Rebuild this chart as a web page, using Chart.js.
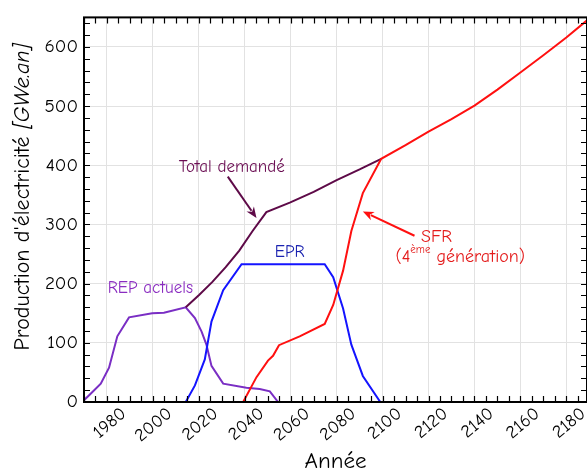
<!DOCTYPE html>
<html>
<head>
<meta charset="utf-8">
<script src="https://cdn.jsdelivr.net/npm/chart.js@4.4.1/dist/chart.umd.min.js"></script>
<style>
  html, body { margin: 0; padding: 0; background: #fff; }
  #wrap { width: 587px; height: 475px; position: relative; }
</style>
</head>
<body>
<div id="wrap"><canvas id="prodChart"></canvas></div>
<script>
(function() {
  'use strict';

  // REP actuels (current PWR fleet)
  const repYears  = [1970, 1972.9, 1977.3, 1980.9, 1984.5, 1989.6, 1999.7, 2004.8, 2014.3, 2018.3, 2021.2, 2023.3, 2025.5, 2030.6, 2040.7, 2046.5, 2050.9, 2054.5];
  const repValues = [3, 14, 31, 58, 111, 143, 150, 151, 160, 142, 119, 97, 61, 31, 24, 22, 18, 0];

  // EPR
  const eprYears  = [2014.3, 2018.3, 2022.6, 2025.5, 2030.6, 2038.6, 2074.8, 2078.5, 2082.8, 2086.4, 2091.4, 2099];
  const eprValues = [0, 28, 72, 136, 189, 233, 233, 211, 158, 97, 44, 0];

  // SFR (4th generation)
  const sfrYears  = [2039.3, 2045.1, 2050.1, 2052.3, 2054.9, 2063.9, 2074.8, 2078.5, 2082.8, 2086.4, 2091.4, 2099.4, 2110, 2120, 2130, 2140, 2150, 2160, 2170, 2180, 2189];
  const sfrValues = [0, 42, 70, 78, 96, 111, 132, 164, 222, 289, 353, 411, 434, 457, 478, 501, 528, 557, 586, 616, 645];

  // Total demandé
  const totalYears  = [2014.3, 2020.1, 2025.9, 2031.7, 2037.6, 2043.4, 2049.4, 2059.6, 2070, 2080, 2090, 2099.4];
  const totalValues = [160, 181, 203, 228, 256, 289, 321, 337, 355, 375, 393, 411];

  const xTickValues = [1980, 2000, 2020, 2040, 2060, 2080, 2100, 2120, 2140, 2160, 2180];
  const yTickValues = [0, 100, 200, 300, 400, 500, 600];

  const FONT = "'Comic Sans MS', 'Comic Neue', 'DejaVu Sans', sans-serif";

  const colors = {
    rep: '#7a2ec4',
    repText: '#8a2cc0',
    epr: '#1414ff',
    eprText: '#1a22b0',
    sfr: '#ff1010',
    sfrText: '#e41c1c',
    total: '#5e0a48',
    totalText: '#6a0c52'
  };

  function toPoints(xs, ys) {
    return xs.map((x, i) => ({ x: x, y: ys[i] }));
  }

  // annotations in data coordinates
  const labels = [
    { text: 'Total demandé', x: 2034.3, y: 396, color: colors.totalText, size: 17 },
    { text: 'EPR', x: 2059.6, y: 253, color: colors.eprText, size: 17 },
    { text: 'REP actuels', x: 1998.9, y: 192, color: colors.repText, size: 17 },
    { text: 'SFR', x: 2123.5, y: 279, color: colors.sfrText, size: 18 }
  ];
  const arrows = [
    { from: [2032.6, 381], to: [2045.1, 311], color: colors.total },
    { from: [2113.9, 281], to: [2091.4, 322], color: colors.sfr }
  ];

  function drawArrow(ctx, x1, y1, x2, y2, color) {
    const ang = Math.atan2(y2 - y1, x2 - x1);
    const len = 11, half = 4.5;
    ctx.save();
    ctx.strokeStyle = color;
    ctx.fillStyle = color;
    ctx.lineWidth = 2;
    ctx.beginPath();
    ctx.moveTo(x1, y1);
    ctx.lineTo(x2 - Math.cos(ang) * len * 0.8, y2 - Math.sin(ang) * len * 0.8);
    ctx.stroke();
    ctx.beginPath();
    ctx.moveTo(x2, y2);
    ctx.lineTo(x2 - Math.cos(ang) * len - Math.sin(ang) * half, y2 - Math.sin(ang) * len + Math.cos(ang) * half);
    ctx.lineTo(x2 - Math.cos(ang) * len * 0.7, y2 - Math.sin(ang) * len * 0.7);
    ctx.lineTo(x2 - Math.cos(ang) * len + Math.sin(ang) * half, y2 - Math.sin(ang) * len - Math.cos(ang) * half);
    ctx.closePath();
    ctx.fill();
    ctx.restore();
  }

  const decorations = {
    id: 'decorations',
    afterDraw(chart) {
      const ctx = chart.ctx;
      const area = chart.chartArea;
      const xs = chart.scales.x, ys = chart.scales.y;

      ctx.save();
      // frame
      ctx.strokeStyle = '#000';
      ctx.lineWidth = 2;
      ctx.strokeRect(area.left, area.top, area.right - area.left, area.bottom - area.top);

      // inward ticks
      ctx.lineWidth = 1.2;
      ctx.beginPath();
      for (let v = 1970; v <= xs.max; v += 5) {
        const px = Math.round(xs.getPixelForValue(v)) + 0.5;
        ctx.moveTo(px, area.bottom); ctx.lineTo(px, area.bottom - 6);
        ctx.moveTo(px, area.top); ctx.lineTo(px, area.top + 6);
      }
      for (let v = 0; v <= ys.max; v += 20) {
        const py = Math.round(ys.getPixelForValue(v)) + 0.5;
        ctx.moveTo(area.left, py); ctx.lineTo(area.left + 6, py);
        ctx.moveTo(area.right, py); ctx.lineTo(area.right - 6, py);
      }
      ctx.stroke();

      // text labels
      ctx.textAlign = 'center';
      ctx.textBaseline = 'middle';
      labels.forEach(l => {
        ctx.fillStyle = l.color;
        ctx.font = l.size + 'px ' + FONT;
        ctx.fillText(l.text, xs.getPixelForValue(l.x), ys.getPixelForValue(l.y));
      });

      // "(4ème génération)" with superscript
      {
        const cx = xs.getPixelForValue(2133.8), cy = ys.getPixelForValue(245);
        const big = '18px ' + FONT, small = '11px ' + FONT;
        ctx.font = big;
        const w1 = ctx.measureText('(4').width;
        const w3 = ctx.measureText(' génération)').width;
        ctx.font = small;
        const w2 = ctx.measureText('ème').width;
        let x = cx - (w1 + w2 + w3) / 2;
        ctx.textAlign = 'left';
        ctx.fillStyle = colors.sfrText;
        ctx.font = big;
        ctx.fillText('(4', x, cy);
        x += w1;
        ctx.font = small;
        ctx.fillText('ème', x, cy - 7);
        x += w2;
        ctx.font = big;
        ctx.fillText(' génération)', x, cy);
      }

      arrows.forEach(a => {
        drawArrow(ctx,
          xs.getPixelForValue(a.from[0]), ys.getPixelForValue(a.from[1]),
          xs.getPixelForValue(a.to[0]), ys.getPixelForValue(a.to[1]), a.color);
      });

      // y axis title with italic unit
      {
        const cy = 197;
        const part1 = "Production d'électricité ", part2 = '[GWe.an]';
        const f1 = '22px ' + FONT, f2 = 'italic 22px ' + FONT;
        ctx.font = f1;
        const w1 = ctx.measureText(part1).width;
        ctx.font = f2;
        const w2 = ctx.measureText(part2).width;
        ctx.translate(23, cy);
        ctx.rotate(-Math.PI / 2);
        ctx.textAlign = 'left';
        ctx.textBaseline = 'middle';
        ctx.fillStyle = '#000';
        ctx.font = f1;
        ctx.fillText(part1, -(w1 + w2) / 2, 0);
        ctx.font = f2;
        ctx.fillText(part2, -(w1 + w2) / 2 + w1, 0);
      }
      ctx.restore();
    }
  };

  function lineSet(label, xs, ys, color) {
    return {
      label: label,
      data: toPoints(xs, ys),
      borderColor: color,
      backgroundColor: color,
      borderWidth: 2,
      pointRadius: 0,
      tension: 0,
      fill: false
    };
  }

  const canvas = document.getElementById('prodChart');
  new Chart(canvas, {
    type: 'line',
    data: {
      datasets: [
        lineSet('SFR', sfrYears, sfrValues, colors.sfr),
        lineSet('Total demandé', totalYears, totalValues, colors.total),
        lineSet('EPR', eprYears, eprValues, colors.epr),
        lineSet('REP actuels', repYears, repValues, colors.rep)
      ]
    },
    options: {
      responsive: true,
      maintainAspectRatio: false,
      animation: false,
      layout: { padding: { top: 12, right: 0, left: 0, bottom: 0 } },
      plugins: {
        legend: { display: false },
        tooltip: { enabled: false }
      },
      scales: {
        x: {
          type: 'linear',
          min: 1970,
          max: 2189,
          afterBuildTicks: scale => { scale.ticks = xTickValues.map(v => ({ value: v })); },
          afterFit: scale => { scale.height = 73; },
          ticks: {
            color: '#000',
            font: { family: FONT, size: 18 },
            minRotation: 40,
            maxRotation: 40,
            padding: 1,
            labelOffset: 17,
            callback: v => String(v)
          },
          grid: { color: '#e2e2e2', lineWidth: 1, drawTicks: false },
          border: { display: false },
          title: {
            display: true,
            text: 'Année',
            color: '#000',
            font: { family: FONT, size: 23 },
            padding: { top: 0, bottom: 0 }
          }
        },
        y: {
          min: 0,
          max: 650,
          afterBuildTicks: scale => { scale.ticks = yTickValues.map(v => ({ value: v })); },
          afterFit: scale => { scale.width = 84; },
          ticks: {
            color: '#000',
            font: { family: FONT, size: 19 },
            padding: 6,
            callback: v => String(v)
          },
          grid: { color: '#e2e2e2', lineWidth: 1, drawTicks: false },
          border: { display: false }
        }
      }
    },
    plugins: [decorations]
  });
})();
</script>
</body>
</html>
